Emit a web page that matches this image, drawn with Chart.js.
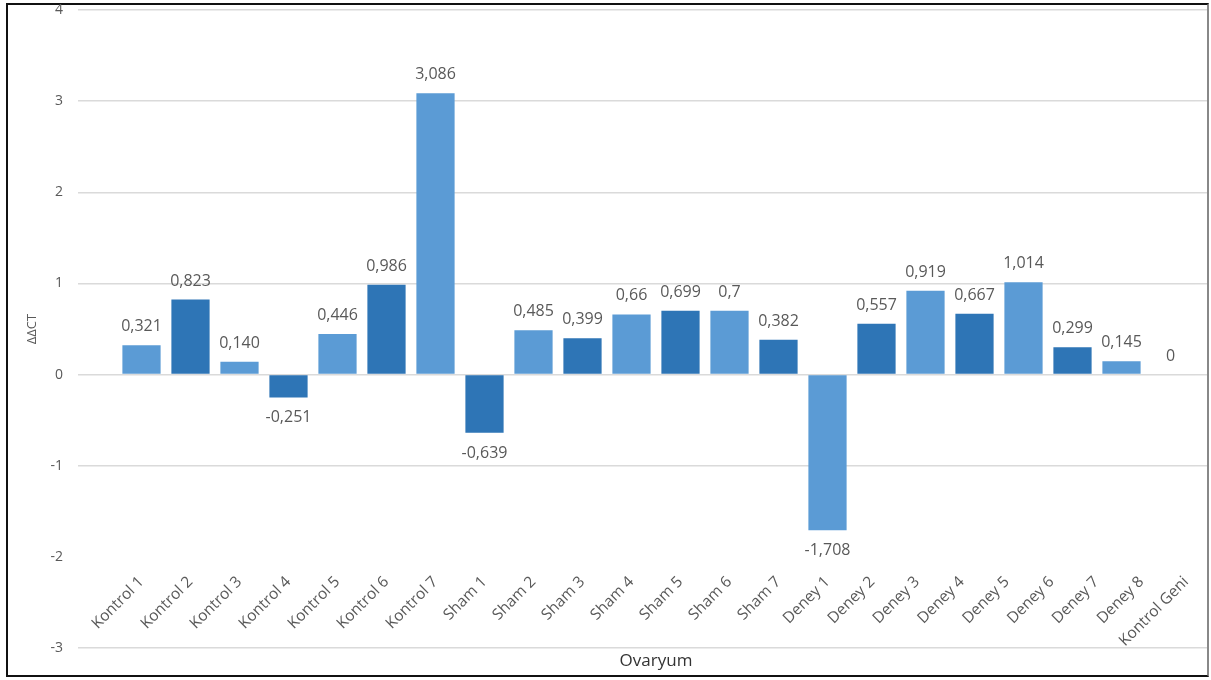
<!DOCTYPE html>
<html>
<head>
<meta charset="utf-8">
<script src="https://cdn.jsdelivr.net/npm/chart.js@4"></script>
<style>
  body { margin: 0; background: #fff; }
  #frame {
    position: absolute; left: 6px; top: 3px; width: 1203px; height: 674px;
    box-sizing: border-box; border: 2px solid #111; border-right-color: #888;
  }
  #chart { position: absolute; left: 0; top: 0; }
</style>
</head>
<body>
<div id="frame"></div>
<canvas id="chart" width="1211" height="680"></canvas>
<script>
// one bar per sample
const categories = ['Kontrol 1', 'Kontrol 2', 'Kontrol 3', 'Kontrol 4', 'Kontrol 5', 'Kontrol 6', 'Kontrol 7',
  'Sham 1', 'Sham 2', 'Sham 3', 'Sham 4', 'Sham 5', 'Sham 6', 'Sham 7',
  'Deney 1', 'Deney 2', 'Deney 3', 'Deney 4', 'Deney 5', 'Deney 6', 'Deney 7', 'Kontrol Geni'];
const ddct = [0.321, 0.823, 0.140, -0.251, 0.446, 0.986, 3.086,
  -0.639, 0.485, 0.399, 0.66, 0.699, 0.7, 0.382,
  -1.708, 0.557, 0.919, 0.667, 1.014, 0.299, 0.145, 0];
// decimals shown in each value label
const decimals = [3, 3, 3, 3, 3, 3, 3, 3, 3, 3, 2, 3, 1, 3, 3, 3, 3, 3, 3, 3, 3, 0];

// names printed along the axis (one more than there are bars)
const axisNames = ['Kontrol 1', 'Kontrol 2', 'Kontrol 3', 'Kontrol 4', 'Kontrol 5', 'Kontrol 6', 'Kontrol 7',
  'Sham 1', 'Sham 2', 'Sham 3', 'Sham 4', 'Sham 5', 'Sham 6', 'Sham 7',
  'Deney 1', 'Deney 2', 'Deney 3', 'Deney 4', 'Deney 5', 'Deney 6', 'Deney 7', 'Deney 8', 'Kontrol Geni'];
const yTicks = [-3, -2, -1, 0, 1, 2, 3, 4];

const lightBlue = '#5b9bd5';
const darkBlue = '#2e75b6';
const textGrey = '#595959';
const gridGrey = '#dadada';

// the last nine names squeeze into the room of the last eight bars
function namePos(i) {
  return i <= 14 ? i : 14 + (i - 14) * 0.915;
}

// the -2 line sits under the name labels and stays hidden
function gridColor(ctx) {
  return ctx.tick && ctx.tick.value === -2 ? 'rgba(0,0,0,0)' : gridGrey;
}

const valueLabels = {
  id: 'valueLabels',
  afterDatasetsDraw(chart) {
    const ctx = chart.ctx;
    const meta = chart.getDatasetMeta(0);
    ctx.save();
    ctx.font = '16px "Open Sans"';
    ctx.fillStyle = textGrey;
    ctx.textAlign = 'center';
    ctx.textBaseline = 'alphabetic';
    meta.data.forEach((bar, i) => {
      const v = ddct[i];
      const txt = v.toFixed(decimals[i]).replace('.', ',');
      const y = v >= 0 ? bar.y - 14 : bar.y + 25;
      ctx.fillText(txt, bar.x, y);
    });
    ctx.restore();
  }
};

new Chart(document.getElementById('chart'), {
  type: 'bar',
  data: {
    labels: categories,
    datasets: [{
      data: ddct,
      backgroundColor: ctx => ctx.dataIndex % 2 === 0 ? lightBlue : darkBlue,
      categoryPercentage: 1,
      barPercentage: 0.78
    }]
  },
  options: {
    responsive: false,
    animation: false,
    layout: { padding: { left: 20, right: 4, top: 0, bottom: 3 } },
    plugins: { legend: { display: false }, tooltip: { enabled: false } },
    scales: {
      x: {
        offset: true,
        grid: { display: false },
        border: { display: false },
        ticks: { display: false },
        title: {
          display: true, text: 'Ovaryum', color: '#333',
          font: { family: 'Open Sans', size: 17 },
          padding: { top: 2, bottom: 6 }
        },
        afterFit: s => { s.height = 29; }
      },
      names: {
        type: 'linear',
        axis: 'x',
        position: { y: -2 },
        offset: false,
        min: -0.5,
        max: categories.length - 0.5,
        grid: { display: false },
        border: { display: false },
        afterBuildTicks: s => { s.ticks = axisNames.map((n, i) => ({ value: namePos(i) })); },
        afterFit: s => { s.paddingLeft = 0; s.paddingRight = 0; },
        ticks: {
          autoSkip: false,
          minRotation: 45,
          maxRotation: 45,
          padding: 8,
          color: textGrey,
          font: { family: 'Open Sans', size: 15.5 },
          callback: (v, i) => axisNames[i]
        }
      },
      y: {
        min: -3,
        max: 4,
        afterBuildTicks: s => { s.ticks = yTicks.map(v => ({ value: v })); },
        grid: { color: gridColor, lineWidth: 1.5, tickLength: 39 },
        border: { display: false },
        ticks: { color: textGrey, padding: 15, font: { family: 'Open Sans', size: 14 } },
        title: {
          display: true, text: 'ΔΔCT', color: textGrey,
          font: { family: 'Open Sans', size: 13 },
          padding: { top: 4, bottom: 4 }
        },
        afterFit: s => { s.width = 97; s.paddingTop = 10; }
      },
      yR: {
        position: 'right',
        min: -3,
        max: 4,
        afterBuildTicks: s => { s.ticks = yTicks.map(v => ({ value: v })); },
        grid: { color: gridColor, lineWidth: 1.5, tickLength: 12, drawOnChartArea: false },
        border: { display: false },
        ticks: { display: false },
        afterFit: s => { s.width = 12; }
      }
    }
  },
  plugins: [valueLabels]
});
</script>
</body>
</html>
